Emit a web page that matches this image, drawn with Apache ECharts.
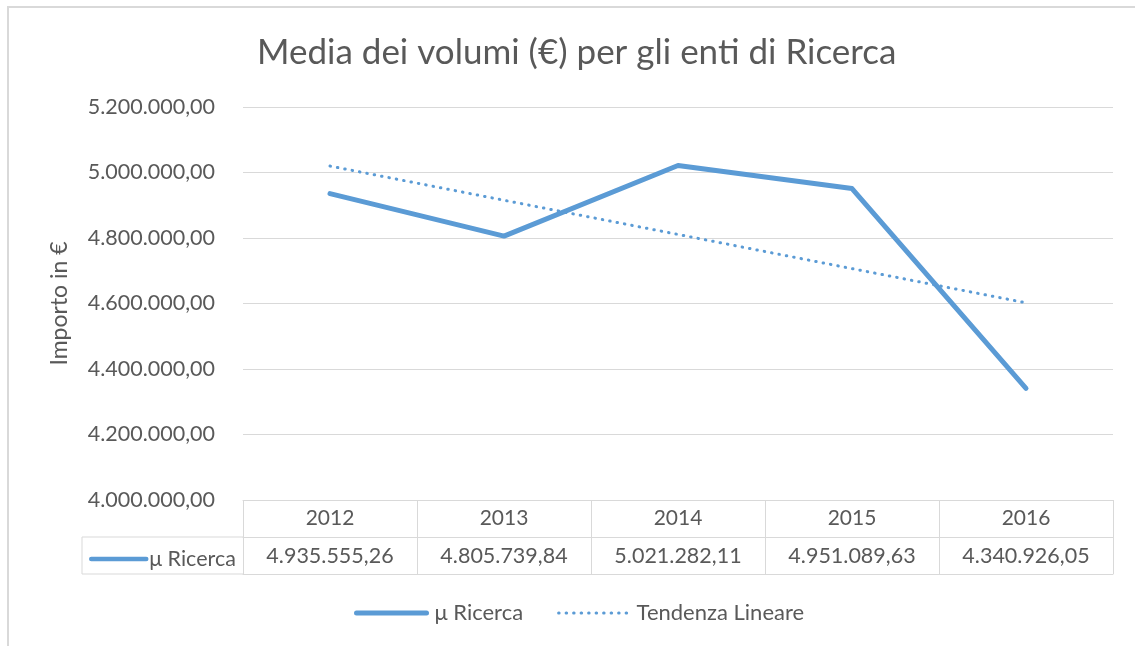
<!DOCTYPE html>
<html>
<head>
<meta charset="utf-8">
<script src="https://cdn.jsdelivr.net/npm/echarts@6/dist/echarts.min.js"></script>
<style>
html,body{margin:0;padding:0;background:#fff;}
#c{width:1135px;height:646px;}
</style>
</head>
<body>
<div id="c"></div>
<script>
const years = ['2012', '2013', '2014', '2015', '2016'];
const ricerca = [4935555.26, 4805739.84, 5021282.11, 4951089.63, 4340926.05];
const tendenza = [5019700.30, 4915309.44, 4810918.58, 4706527.72, 4602136.86];
const yTicks = [4000000, 4200000, 4400000, 4600000, 4800000, 5000000, 5200000];

const FONT = 'Lato';
const TXT = '#595959';
const BORDER = '#d9d9d9';
const BLUE = '#5b9bd5';

function fmt(v) {
  const s = Number(v).toFixed(2);
  const parts = s.split('.');
  return parts[0].replace(/\B(?=(\d{3})+(?!\d))/g, '.') + ',' + parts[1];
}

const G = {left: 243, right: 22, top: 107, bottom: 146};
const ROW1 = 37, ROW2 = 74, CELL_LEFT = 82;
const axisBottom = 646 - G.bottom;

const mainLine = {color: BLUE, width: 5, cap: 'round', join: 'round'};
const trendLine = {color: BLUE, width: 3, type: [0.5, 7], cap: 'round'};

const chart = echarts.init(document.getElementById('c'), null, {renderer: 'canvas'});
chart.setOption({
  animation: false,
  backgroundColor: '#fff',
  title: {
    text: 'Media dei volumi (€) per gli enti di Ricerca',
    left: 252, top: 30,
    textStyle: {fontFamily: FONT, fontSize: 35, fontWeight: 'normal', color: TXT}
  },
  grid: G,
  legend: [{
    data: [
      {name: 'μ Ricerca', lineStyle: mainLine},
      {name: 'Tendenza Lineare', lineStyle: trendLine}
    ],
    top: 597, left: 349,
    itemWidth: 70, itemHeight: 14, itemGap: 34,
    itemStyle: {opacity: 0},
    textStyle: {fontFamily: FONT, fontSize: 22, color: TXT, padding: [0, 0, 0, 3]}
  }, {
    data: [{name: 'μ Ricerca', lineStyle: Object.assign({}, mainLine, {width: 4.5})}],
    left: CELL_LEFT + 2, top: axisBottom + ROW1 + 6,
    itemWidth: 55, itemHeight: 14,
    itemStyle: {opacity: 0},
    textStyle: {fontFamily: FONT, fontSize: 21.5, color: TXT, padding: [0, 0, 0, -2]},
    selectedMode: false
  }],
  xAxis: [{
    type: 'category', data: years, boundaryGap: true,
    axisLine: {show: true, lineStyle: {color: BORDER, width: 1}},
    axisTick: {show: true, length: ROW2, lineStyle: {color: BORDER}},
    axisLabel: {fontFamily: FONT, fontSize: 21, color: TXT, margin: 8},
    splitLine: {show: false}
  }, {
    type: 'category', data: ricerca.map(fmt), position: 'bottom', offset: ROW1,
    axisLine: {show: true, lineStyle: {color: BORDER, width: 1}},
    axisTick: {show: false},
    axisLabel: {fontFamily: FONT, fontSize: 21.5, color: TXT, margin: 8}
  }, {
    type: 'category', data: years, position: 'bottom', offset: ROW2,
    axisLine: {show: true, lineStyle: {color: BORDER, width: 1}},
    axisTick: {show: false},
    axisLabel: {show: false}
  }],
  yAxis: {
    type: 'value', min: yTicks[0], max: yTicks[yTicks.length - 1], interval: 200000,
    name: 'Importo in €', nameLocation: 'middle', nameGap: 172, nameRotate: 90,
    nameTextStyle: {fontFamily: FONT, fontSize: 23, color: TXT},
    axisLine: {show: false}, axisTick: {show: false},
    axisLabel: {fontFamily: FONT, fontSize: 21.5, color: TXT, margin: 28, formatter: fmt},
    splitLine: {lineStyle: {color: BORDER, width: 1}}
  },
  series: [{
    name: 'μ Ricerca', type: 'line', data: ricerca,
    symbol: 'none', showSymbol: false,
    lineStyle: mainLine,
    itemStyle: {color: BLUE}
  }, {
    name: 'Tendenza Lineare', type: 'line', data: tendenza,
    symbol: 'none', showSymbol: false,
    lineStyle: trendLine,
    itemStyle: {color: BLUE}
  }],
  graphic: [
    {type: 'rect', shape: {x: 8, y: 7, width: 1200, height: 700}, style: {fill: null, stroke: BORDER, lineWidth: 2}, silent: true, z: -1},
    {type: 'line', shape: {x1: CELL_LEFT, y1: axisBottom + ROW1, x2: G.left, y2: axisBottom + ROW1}, style: {stroke: BORDER, lineWidth: 1}, silent: true},
    {type: 'line', shape: {x1: CELL_LEFT, y1: axisBottom + ROW2, x2: G.left, y2: axisBottom + ROW2}, style: {stroke: BORDER, lineWidth: 1}, silent: true},
    {type: 'line', shape: {x1: CELL_LEFT, y1: axisBottom + ROW1, x2: CELL_LEFT, y2: axisBottom + ROW2}, style: {stroke: BORDER, lineWidth: 1}, silent: true}
  ]
});
</script>
</body>
</html>
